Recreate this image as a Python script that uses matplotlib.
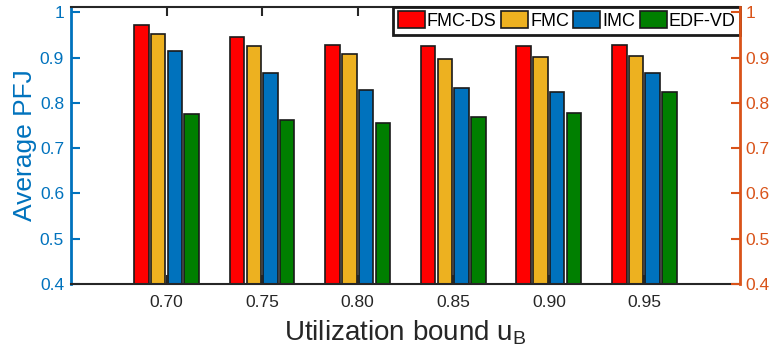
import matplotlib
matplotlib.use('Agg')
import matplotlib.pyplot as plt
import numpy as np

categories = ['0.70', '0.75', '0.80', '0.85', '0.90', '0.95']
series_names = ['FMC-DS', 'FMC', 'IMC', 'EDF-VD']
fmc_ds = [0.973, 0.946, 0.929, 0.925, 0.925, 0.929]
fmc = [0.953, 0.925, 0.909, 0.898, 0.901, 0.904]
imc = [0.915, 0.865, 0.828, 0.834, 0.823, 0.865]
edf_vd = [0.776, 0.762, 0.755, 0.769, 0.778, 0.823]
yticks = [0.4, 0.5, 0.6, 0.7, 0.8, 0.9, 1.0]
ytick_labels = ['0.4', '0.5', '0.6', '0.7', '0.8', '0.9', '1']

colors = ['#FF0000', '#EDB120', '#0072BD', '#007F00']
left_col = '#0072BD'
right_col = '#D95319'
dark = '#262626'

plt.rcParams['font.family'] = ['Liberation Sans', 'DejaVu Sans']
fig = plt.figure(figsize=(7.72, 3.58), dpi=100)
ax = fig.add_axes([0.092, 0.207, 0.8665, 0.7735])

x = np.arange(1, len(categories) + 1)
pitch = 0.175
width = 0.152
for i, (vals, name, c) in enumerate(zip([fmc_ds, fmc, imc, edf_vd], series_names, colors)):
    ax.bar(x + (i - 1.5) * pitch, vals, width=width, color=c,
           edgecolor='#1a1a1a', linewidth=1.2, label=name, zorder=1)

ax.set_xlim(0, 7)
ax.set_ylim(0.4, 1.012)
ax.set_xticks(x)
ax.set_xticklabels(categories)
ax.set_yticks(yticks)
ax.set_yticklabels(ytick_labels)

ax.tick_params(axis='x', direction='in', top=True, length=6.5, width=1.5,
               color=dark, labelcolor=dark, labelsize=12.5, pad=8)
ax.tick_params(axis='y', direction='in', length=6.5, width=1.5,
               color=left_col, labelcolor=left_col, labelsize=12.5, pad=5)
for s in ['top', 'bottom']:
    ax.spines[s].set_color(dark)
    ax.spines[s].set_linewidth(1.5)
ax.spines['left'].set_color(left_col)
ax.spines['left'].set_linewidth(2)
ax.spines['right'].set_visible(False)

ax2 = ax.twinx()
ax2.set_ylim(0.4, 1.012)
ax2.set_yticks(yticks)
ax2.set_yticklabels(ytick_labels)
ax2.tick_params(axis='y', direction='in', length=6.5, width=1.5,
                color=right_col, labelcolor=right_col, labelsize=12.5, pad=4)
for s in ['top', 'bottom', 'left']:
    ax2.spines[s].set_visible(False)
ax2.spines['right'].set_color(right_col)
ax2.spines['right'].set_linewidth(2)

ax.set_xlabel('Utilization bound u$_\\mathregular{B}$', fontsize=20, color=dark, labelpad=6)
ax.set_ylabel('Average PFJ', fontsize=19, color=left_col, labelpad=2)

leg = ax.legend(loc='upper right', ncol=4, fontsize=13, frameon=True, fancybox=False,
                borderaxespad=0.0, handlelength=1.5, handleheight=1.05,
                handletextpad=0.1, columnspacing=0.25, borderpad=0.25)
leg.get_frame().set_edgecolor('#1a1a1a')
leg.get_frame().set_linewidth(2)
leg.get_frame().set_alpha(1)

fig.savefig('out.png', dpi=100)
